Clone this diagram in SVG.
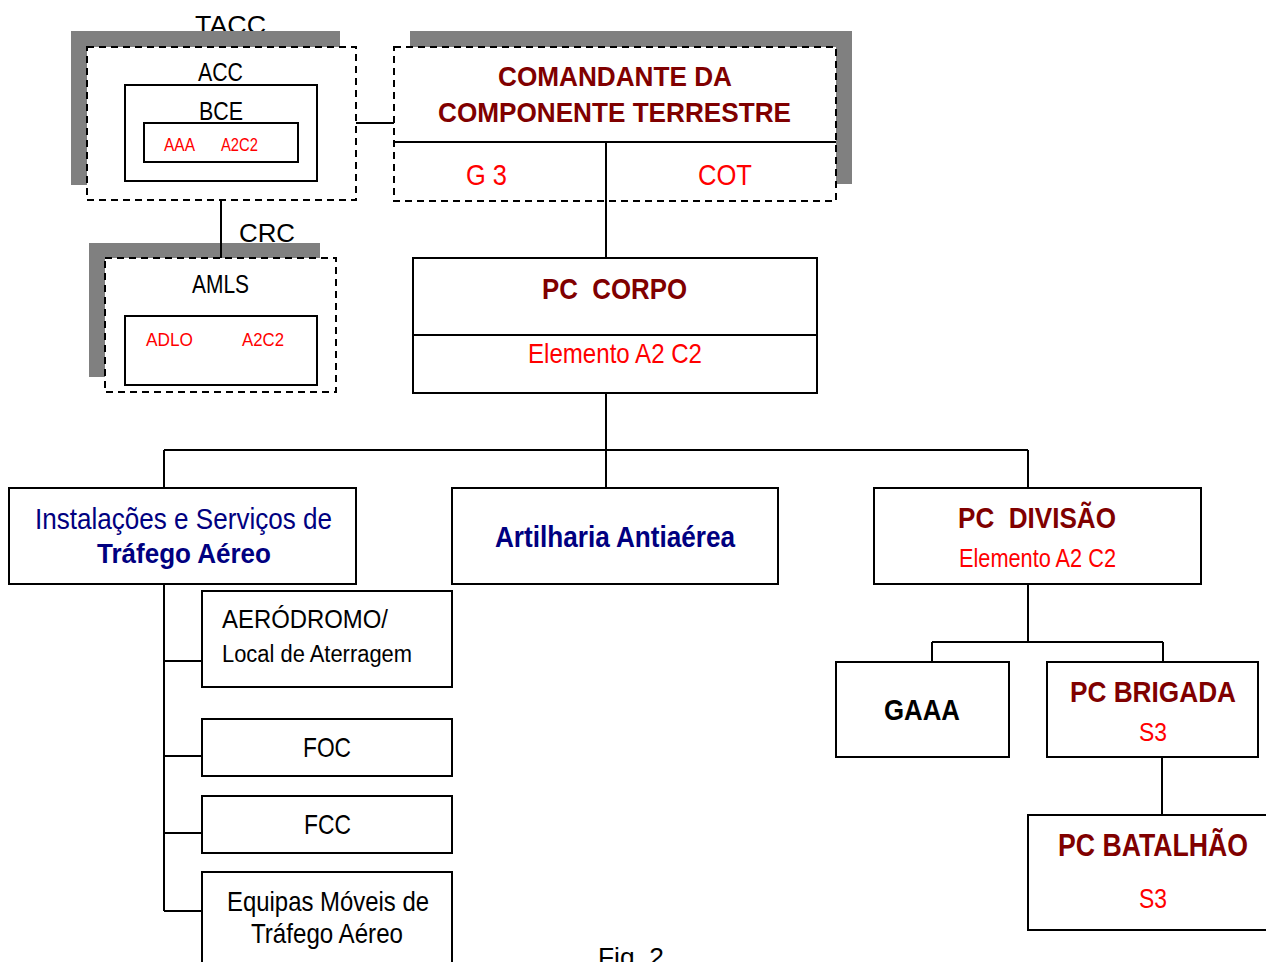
<svg xmlns="http://www.w3.org/2000/svg" width="1266" height="962" viewBox="0 0 1266 962">
<style>
text{font-family:"Liberation Sans",Arial,sans-serif;white-space:pre;}
.box{fill:#fff;stroke:#000;stroke-width:2;}
.dash{fill:#fff;stroke:#000;stroke-width:2;stroke-dasharray:7 5;}
.shadow{fill:#808080;}
.ln{stroke:#000;stroke-width:2;fill:none;}
.dr{fill:#800000;font-weight:bold;}
.rd{fill:#ff0000;}
.nv{fill:#000080;}
.bk{fill:#000;}
.b{font-weight:bold;}
</style>
<rect width="1266" height="962" fill="#fff"/>
<g id="connectors">
<line class="ln" x1="356" y1="123" x2="394" y2="123"/>
<line class="ln" x1="221" y1="200" x2="221" y2="258"/>
<line class="ln" x1="606" y1="201" x2="606" y2="258"/>
<line class="ln" x1="606" y1="393" x2="606" y2="488"/>
<line class="ln" x1="164" y1="450" x2="1028" y2="450"/>
<line class="ln" x1="164" y1="450" x2="164" y2="488"/>
<line class="ln" x1="1028" y1="450" x2="1028" y2="488"/>
<line class="ln" x1="164" y1="584" x2="164" y2="911"/>
<line class="ln" x1="164" y1="661" x2="202" y2="661"/>
<line class="ln" x1="164" y1="756" x2="202" y2="756"/>
<line class="ln" x1="164" y1="833" x2="202" y2="833"/>
<line class="ln" x1="164" y1="911" x2="202" y2="911"/>
<line class="ln" x1="1028" y1="584" x2="1028" y2="642"/>
<line class="ln" x1="932" y1="642" x2="1163" y2="642"/>
<line class="ln" x1="932" y1="642" x2="932" y2="662"/>
<line class="ln" x1="1163" y1="642" x2="1163" y2="662"/>
<line class="ln" x1="1162" y1="757" x2="1162" y2="815"/>
</g>
<g id="tacc">
<text class="bk" x="195" y="34" font-size="26" textLength="71" lengthAdjust="spacingAndGlyphs">TACC</text>
<rect class="shadow" x="71" y="31" width="269" height="154"/>
<rect class="dash" x="87" y="47" width="269" height="153"/>
<text class="bk" x="198" y="81" font-size="26" textLength="45" lengthAdjust="spacingAndGlyphs">ACC</text>
<rect class="box" x="125" y="85" width="192" height="96"/>
<text class="bk" x="199" y="120" font-size="26" textLength="44" lengthAdjust="spacingAndGlyphs">BCE</text>
<rect class="box" x="144" y="123" width="154" height="39"/>
<text class="rd" x="164" y="151" font-size="18" textLength="31" lengthAdjust="spacingAndGlyphs">AAA</text>
<text class="rd" x="221" y="151" font-size="18" textLength="37" lengthAdjust="spacingAndGlyphs">A2C2</text>
</g>
<g id="comandante">
<rect class="shadow" x="410" y="31" width="442" height="153"/>
<rect class="dash" x="394" y="47" width="442" height="154"/>
<line class="ln" x1="394" y1="142" x2="836" y2="142"/>
<line class="ln" x1="606" y1="142" x2="606" y2="201"/>
<text class="dr" x="498" y="86" font-size="28" textLength="234" lengthAdjust="spacingAndGlyphs">COMANDANTE DA</text>
<text class="dr" x="438" y="122" font-size="28" textLength="353" lengthAdjust="spacingAndGlyphs">COMPONENTE TERRESTRE</text>
<text class="rd" x="466" y="185" font-size="30" textLength="41" lengthAdjust="spacingAndGlyphs">G 3</text>
<text class="rd" x="698" y="185" font-size="30" textLength="54" lengthAdjust="spacingAndGlyphs">COT</text>
</g>
<g id="crc">
<text class="bk" x="239" y="242" font-size="26" textLength="56" lengthAdjust="spacingAndGlyphs">CRC</text>
<rect class="shadow" x="89" y="243" width="231" height="134"/>
<rect class="dash" x="105" y="258" width="231" height="134"/>
<line class="ln" x1="221" y1="243" x2="221" y2="258"/>
<text class="bk" x="192" y="293" font-size="26" textLength="57" lengthAdjust="spacingAndGlyphs">AMLS</text>
<rect class="box" x="125" y="316" width="192" height="69"/>
<text class="rd" x="146" y="346" font-size="19" textLength="47" lengthAdjust="spacingAndGlyphs">ADLO</text>
<text class="rd" x="242" y="346" font-size="19" textLength="42" lengthAdjust="spacingAndGlyphs">A2C2</text>
</g>
<g id="pc-corpo">
<rect class="box" x="413" y="258" width="404" height="135"/>
<line class="ln" x1="413" y1="335" x2="817" y2="335"/>
<text class="dr" x="542" y="299" font-size="30" textLength="145" lengthAdjust="spacingAndGlyphs">PC  CORPO</text>
<text class="rd" x="528" y="363" font-size="28" textLength="174" lengthAdjust="spacingAndGlyphs">Elemento A2 C2</text>
</g>
<g id="instalacoes">
<rect class="box" x="9" y="488" width="347" height="96"/>
<text class="nv" x="35" y="529" font-size="29" textLength="297" lengthAdjust="spacingAndGlyphs">Instalações e Serviços de</text>
<text class="nv b" x="97" y="563" font-size="28" textLength="174" lengthAdjust="spacingAndGlyphs">Tráfego Aéreo</text>
</g>
<g id="artilharia">
<rect class="box" x="452" y="488" width="326" height="96"/>
<text class="nv b" x="495" y="547" font-size="30" textLength="240" lengthAdjust="spacingAndGlyphs">Artilharia Antiaérea</text>
</g>
<g id="pc-divisao">
<rect class="box" x="874" y="488" width="327" height="96"/>
<text class="dr" x="958" y="528" font-size="30" textLength="158" lengthAdjust="spacingAndGlyphs">PC  DIVISÃO</text>
<text class="rd" x="959" y="567" font-size="26" textLength="157" lengthAdjust="spacingAndGlyphs">Elemento A2 C2</text>
</g>
<g id="aerodromo">
<rect class="box" x="202" y="591" width="250" height="96"/>
<text class="bk" x="222" y="628" font-size="26" textLength="166" lengthAdjust="spacingAndGlyphs">AERÓDROMO/</text>
<text class="bk" x="222" y="662" font-size="23" textLength="190" lengthAdjust="spacingAndGlyphs">Local de Aterragem</text>
</g>
<g id="foc">
<rect class="box" x="202" y="719" width="250" height="57"/>
<text class="bk" x="303" y="757" font-size="28" textLength="48" lengthAdjust="spacingAndGlyphs">FOC</text>
</g>
<g id="fcc">
<rect class="box" x="202" y="796" width="250" height="57"/>
<text class="bk" x="304" y="834" font-size="28" textLength="47" lengthAdjust="spacingAndGlyphs">FCC</text>
</g>
<g id="equipas">
<rect class="box" x="202" y="872" width="250" height="110"/>
<text class="bk" x="227" y="911" font-size="28" textLength="202" lengthAdjust="spacingAndGlyphs">Equipas Móveis de</text>
<text class="bk" x="251" y="943" font-size="28" textLength="152" lengthAdjust="spacingAndGlyphs">Tráfego Aéreo</text>
</g>
<g id="gaaa">
<rect class="box" x="836" y="662" width="173" height="95"/>
<text class="bk b" x="884" y="720" font-size="30" textLength="76" lengthAdjust="spacingAndGlyphs">GAAA</text>
</g>
<g id="pc-brigada">
<rect class="box" x="1047" y="662" width="211" height="95"/>
<text class="dr" x="1070" y="702" font-size="30" textLength="166" lengthAdjust="spacingAndGlyphs">PC BRIGADA</text>
<text class="rd" x="1139" y="741" font-size="25" textLength="28" lengthAdjust="spacingAndGlyphs">S3</text>
</g>
<g id="pc-batalhao">
<rect class="box" x="1028" y="815" width="260" height="115"/>
<text class="dr" x="1058" y="856" font-size="31" textLength="190" lengthAdjust="spacingAndGlyphs">PC BATALHÃO</text>
<text class="rd" x="1139" y="908" font-size="28" textLength="28" lengthAdjust="spacingAndGlyphs">S3</text>
</g>
<text class="bk" x="598" y="966" font-size="26" textLength="66" lengthAdjust="spacingAndGlyphs">Fig. 2</text>
</svg>
